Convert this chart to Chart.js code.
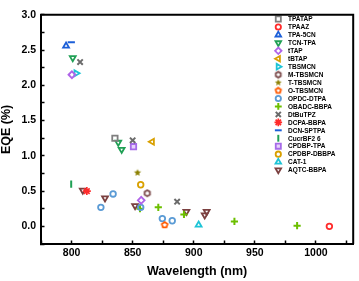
<!DOCTYPE html>
<html>
<head>
<meta charset="utf-8">
<script src="https://cdn.jsdelivr.net/npm/chart.js@4.4.0/dist/chart.umd.min.js"></script>
<style>
  html, body { margin: 0; padding: 0; background: #fff; }
</style>
</head>
<body>
<canvas id="chart" width="359" height="281"></canvas>
<script>
// series names, in legend order
const seriesNames = ['TPATAP', 'TPAAZ', 'TPA-5CN', 'TCN-TPA', 'tTAP', 'tBTAP', 'TBSMCN', 'M-TBSMCN',
  'T-TBSMCN', 'O-TBSMCN', 'OPDC-DTPA', 'OBADC-BBPA', 'DtBuTPZ', 'DCPA-BBPA', 'DCN-SPTPA',
  'CucrBF2 6', 'CPDBP-TPA', 'CPDBP-DBBPA', 'CAT-1', 'AQTC-BBPA'];

// wavelength (nm) / EQE (%)
const wlTPATAP = [835.5],            eqeTPATAP = [1.25];
const wlTPAAZ = [1011],              eqeTPAAZ = [0.0];
const wlTPA5CN = [795.5],            eqeTPA5CN = [2.56];
const wlTCNTPA = [801, 838.2, 841],  eqeTCNTPA = [2.39, 1.19, 1.09];
const wlTTAP = [800.3, 857],         eqeTTAP = [2.15, 0.37];
const wlTBTAP = [866],               eqeTBTAP = [1.20];
const wlTBSMCN = [803.8],            eqeTBSMCN = [2.17];
const wlMTBSMCN = [862],             eqeMTBSMCN = [0.47];
const wlTTBSMCN = [854],             eqeTTBSMCN = [0.76];
const wlOTBSMCN = [876.2],           eqeOTBSMCN = [0.02];
const wlOPDC = [824, 834, 856.6, 874.3, 882.4], eqeOPDC = [0.27, 0.46, 0.27, 0.11, 0.08];
const wlOBADC = [856, 871, 892, 933.3, 984.6],  eqeOBADC = [0.25, 0.27, 0.17, 0.07, 0.01];
const wlDtBuTPZ = [807, 850, 886.4], eqeDtBuTPZ = [2.33, 1.22, 0.35];
const wlDCPA = [812.5],              eqeDCPA = [0.50];
const wlDCNSPTPA = [799.8],          eqeDCNSPTPA = [2.61];
const wlCucrBF2 = [799.7],           eqeCucrBF2 = [0.60];
const wlCPDBPTPA = [850.7],          eqeCPDBPTPA = [1.13];
const wlCPDBPDBBPA = [856.6],        eqeCPDBPDBBPA = [0.59];
const wlCAT1 = [904],                eqeCAT1 = [0.02];
const wlAQTC = [809.2, 827.4, 852, 894, 909, 910.6], eqeAQTC = [0.51, 0.40, 0.29, 0.21, 0.16, 0.21];

const xTickValues = [775, 800, 825, 850, 875, 900, 925, 950, 975, 1000, 1025];
const xTickLabels = ['', '800', '', '850', '', '900', '', '950', '', '1000', ''];
const yTickValues = [-0.25, 0, 0.25, 0.5, 0.75, 1, 1.25, 1.5, 1.75, 2, 2.25, 2.5, 2.75, 3];
const yTickLabels = ['', '0.0', '', '0.5', '', '1.0', '', '1.5', '', '2.0', '', '2.5', '', '3.0'];

const wlList = [wlTPATAP, wlTPAAZ, wlTPA5CN, wlTCNTPA, wlTTAP, wlTBTAP, wlTBSMCN, wlMTBSMCN, wlTTBSMCN,
  wlOTBSMCN, wlOPDC, wlOBADC, wlDtBuTPZ, wlDCPA, wlDCNSPTPA, wlCucrBF2, wlCPDBPTPA, wlCPDBPDBBPA, wlCAT1, wlAQTC];
const eqeList = [eqeTPATAP, eqeTPAAZ, eqeTPA5CN, eqeTCNTPA, eqeTTAP, eqeTBTAP, eqeTBSMCN, eqeMTBSMCN, eqeTTBSMCN,
  eqeOTBSMCN, eqeOPDC, eqeOBADC, eqeDtBuTPZ, eqeDCPA, eqeDCNSPTPA, eqeCucrBF2, eqeCPDBPTPA, eqeCPDBPDBBPA, eqeCAT1, eqeAQTC];

// small canvas markers for shapes Chart.js doesn't have
function shapeCanvas(kind, color, r, lw) {
  const s = Math.ceil(2 * r + lw + 2);
  const c = document.createElement('canvas');
  c.width = s; c.height = s;
  const g = c.getContext('2d');
  g.translate(s / 2, s / 2);
  g.beginPath();
  if (kind === 'star') {
    for (let i = 0; i < 10; i++) {
      const a = -Math.PI / 2 + i * Math.PI / 5;
      const rr = i % 2 ? r * 0.45 : r;
      g.lineTo(Math.cos(a) * rr, Math.sin(a) * rr);
    }
  } else {
    const n = kind === 'hexagon' ? 6 : 5;
    for (let i = 0; i < n; i++) {
      const a = -Math.PI / 2 + i * 2 * Math.PI / n;
      g.lineTo(Math.cos(a) * r, Math.sin(a) * r);
    }
  }
  g.closePath();
  if (kind === 'star') { g.fillStyle = color; g.fill(); }
  else { g.strokeStyle = color; g.lineWidth = lw; g.stroke(); }
  return c;
}

// style per series: [pointStyle, rotation, color, fill, radius, borderWidth]
const styles = [
  ['rect', 0, '#7f7f7f', 'transparent', 3.8, 1.8],
  ['circle', 0, '#ff2b2b', 'transparent', 2.8, 1.8],
  ['triangle', 0, '#1c5fd8', 'transparent', 3.4, 1.8],
  ['triangle', 180, '#20a055', 'transparent', 3.4, 1.8],
  ['rectRot', 0, '#b064e8', 'transparent', 3.4, 1.8],
  ['triangle', -90, '#d9a000', 'transparent', 3.4, 1.8],
  ['triangle', 90, '#1ec4d6', 'transparent', 3.4, 1.8],
  ['hexagon', 0, '#7b4a4a', null, 3.0, 1.8],
  ['star', 0, '#8c8000', null, 3.8, 0],
  ['pentagon', 0, '#ff5a00', null, 3.0, 1.8],
  ['circle', 0, '#5b9bd5', 'transparent', 2.8, 1.8],
  ['cross', 0, '#6cbf00', 'transparent', 3.6, 2],
  ['crossRot', 0, '#6b6b6b', 'transparent', 3.8, 2],
  ['star', 0, '#ff2b2b', 'transparent', 4.0, 1.7],
  ['line', 0, '#1c5fd8', 'transparent', 3.6, 2],
  ['line', 90, '#20a055', 'transparent', 3.6, 2],
  ['rect', 0, '#a66be8', '#e6d4fa', 3.8, 1.8],
  ['circle', 0, '#d9a000', 'transparent', 2.8, 1.8],
  ['triangle', 0, '#1ec4d6', 'transparent', 3.4, 1.8],
  ['triangle', 180, '#7b4040', 'transparent', 3.4, 1.8]
];

const datasets = seriesNames.map((name, i) => {
  const [shape, rot, color, fill, r, bw] = styles[i];
  const custom = fill === null;
  return {
    label: name,
    data: wlList[i].map((x, j) => ({ x: x, y: eqeList[i][j] })),
    pointStyle: custom ? shapeCanvas(shape, color, r, bw) : shape,
    legendStyle: custom ? shapeCanvas(shape, color, r * 0.95, bw) : shape,
    pointRotation: rot,
    pointRadius: r,
    pointHoverRadius: r,
    pointBorderWidth: bw,
    borderColor: color,
    backgroundColor: fill || color,
    showLine: false
  };
});

const FONT = '"Liberation Sans", Arial, sans-serif';

// legend drawn inside the plot, upper right
const insideLegend = {
  id: 'insideLegend',
  afterDatasetsDraw(chart) {
    const ctx = chart.ctx;
    ctx.save();
    ctx.font = 'bold 6.5px ' + FONT;
    ctx.textBaseline = 'middle';
    chart.data.datasets.forEach((ds, i) => {
      const y = 19 + i * 7.95;
      const x = 278.3;
      const st = ds.legendStyle;
      if (st instanceof HTMLCanvasElement) {
        ctx.drawImage(st, x - st.width / 2, y - st.height / 2);
      } else {
        ctx.fillStyle = ds.backgroundColor;
        ctx.strokeStyle = ds.borderColor;
        ctx.lineWidth = ds.pointBorderWidth;
        Chart.helpers.drawPoint(ctx, {
          pointStyle: st, rotation: ds.pointRotation,
          radius: ds.pointRadius * 0.95, borderWidth: ds.pointBorderWidth
        }, x, y);
      }
      ctx.fillStyle = '#000';
      ctx.fillText(ds.label, 288, y + 0.5);
    });
    ctx.restore();
  }
};

// top and right frame lines
const frame = {
  id: 'frame',
  afterDraw(chart) {
    const { ctx, chartArea: a } = chart;
    ctx.save();
    ctx.strokeStyle = '#000';
    ctx.lineWidth = 2;
    ctx.beginPath();
    ctx.moveTo(a.left, a.top);
    ctx.lineTo(a.right, a.top);
    ctx.lineTo(a.right, a.bottom);
    ctx.stroke();
    ctx.restore();
  }
};

new Chart(document.getElementById('chart'), {
  type: 'scatter',
  data: { datasets },
  options: {
    responsive: false,
    animation: false,
    layout: { padding: { top: 6, right: 3.3, left: 0, bottom: 0 } },
    plugins: { legend: { display: false }, tooltip: { enabled: false } },
    scales: {
      x: {
        min: 775,
        max: 1030.5,
        afterBuildTicks: (axis) => { axis.ticks = xTickValues.map(v => ({ value: v })); },
        afterFit: (s) => { s.height = 37; },
        border: { display: true, color: '#000', width: 2 },
        grid: { display: true, drawOnChartArea: false, drawTicks: true, tickLength: -3.5, color: '#000', tickWidth: 1.5 },
        ticks: {
          padding: 6,
          color: '#000',
          font: { family: FONT, size: 10.5, weight: 'bold' },
          autoSkip: false,
          maxRotation: 0,
          callback: (v) => xTickLabels[xTickValues.indexOf(v)] ?? ''
        },
        title: {
          display: true,
          text: 'Wavelength (nm)',
          color: '#000',
          font: { family: FONT, size: 12.5, weight: 'bold', lineHeight: 1 },
          padding: { top: 0, bottom: 3 }
        }
      },
      y: {
        min: -0.25,
        max: 3.0,
        afterBuildTicks: (axis) => { axis.ticks = yTickValues.map(v => ({ value: v })); },
        afterFit: (s) => { s.width = 41; },
        border: { display: true, color: '#000', width: 2 },
        grid: { display: true, drawOnChartArea: false, drawTicks: true, tickLength: -3.5, color: '#000', tickWidth: 1.5 },
        ticks: {
          padding: 8.5,
          color: '#000',
          font: { family: FONT, size: 10.5, weight: 'bold' },
          autoSkip: false,
          callback: (v) => yTickLabels[yTickValues.indexOf(v)] ?? ''
        },
        title: {
          display: true,
          text: 'EQE (%)',
          color: '#000',
          font: { family: FONT, size: 12.5, weight: 'bold', lineHeight: 1 },
          padding: { top: 0, bottom: 0 }
        }
      }
    }
  },
  plugins: [insideLegend, frame]
});
</script>
</body>
</html>
